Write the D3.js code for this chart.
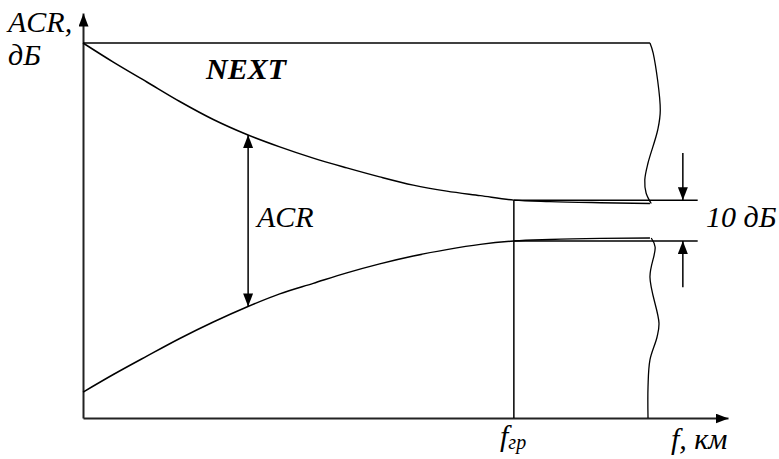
<!DOCTYPE html>
<html><head><meta charset="utf-8">
<script src="https://cdn.jsdelivr.net/npm/d3@7"></script>
<style>
body{margin:0;background:#fff}
#chart text{font-family:'Liberation Serif' !important;font-style:italic}
</style>
</head><body>
<svg id="chart" width="779" height="459"></svg>
<script>
// ---- data ----
const fValues     = [0, 4.7, 9.9, 15.0, 20.2, 25.4, 30.5, 35.7, 40.9, 46.0, 51.2, 56.4, 61.6, 66.8, 72.4, 80.2, 87.9];
const nextValues  = [100, 94.9, 89.6, 84.4, 79.6, 75.6, 72.3, 69.3, 66.7, 64.3, 62.1, 60.5, 59.3, 58.1, 57.7, 57.4, 57.2];
const lowerValues = [6.9, 11.6, 16.5, 21.2, 25.6, 29.6, 33.1, 35.9, 38.7, 41.1, 43.2, 44.9, 46.3, 47.2, 47.6, 47.9, 48.0];
const fGr = 66.8;
const topLevel = 100;
const nextLevel = 58.1;
const lowerLevel = 47.2;
const levelEnd = 95.3;
const markerF = 93.0;
const acrF = 25.6;
const breakTopF = [87.9, 88.4, 89.5, 89.1, 87.6, 87.1, 87.3, 88.1];
const breakTopV = [100, 97.3, 82.1, 76.8, 68.0, 63.5, 60.0, 57.2];
const breakLowF = [88.1, 88.7, 87.9, 89.3, 89.0, 87.9, 87.6, 87.6];
const breakLowV = [48.0, 45.6, 37.6, 25.3, 21.6, 15.5, 8.3, 0];
const labels = {yAxis1: "ACR,", yAxis2: "дБ", next: "NEXT", acr: "ACR", gap: "10 дБ", xAxis: "f, км", fgr: "f", fgrSub: "гр"};

// ---- drawing ----
const FONT = "Liberation Serif";
const svg = d3.select("#chart");
const x = d3.scaleLinear().domain([0, 100]).range([83, 728]);
const y = d3.scaleLinear().domain([0, 108]).range([418, 13]);

const defs = svg.append("defs");
defs.append("marker").attr("id", "arr")
  .attr("viewBox", "0 -5 13 10").attr("refX", 13).attr("refY", 0)
  .attr("markerWidth", 13).attr("markerHeight", 10)
  .attr("markerUnits", "userSpaceOnUse").attr("orient", "auto-start-reverse")
  .append("path").attr("d", "M0,-5L13,0L0,5Z").attr("fill", "#000");

// axes (no ticks)
const gx = svg.append("g").attr("transform", `translate(0,${y(0)})`)
  .call(d3.axisBottom(x).tickValues([]).tickSizeOuter(0));
gx.select(".domain").attr("stroke", "#222").attr("stroke-width", 2).attr("marker-end", "url(#arr)");
const gy = svg.append("g").attr("transform", `translate(${x(0)},0)`)
  .call(d3.axisLeft(y).tickValues([]).tickSizeOuter(0));
gy.select(".domain").attr("stroke", "#222").attr("stroke-width", 2).attr("marker-end", "url(#arr)");

const seg = (x1, y1, x2, y2) => svg.append("line")
  .attr("x1", x(x1)).attr("y1", y(y1)).attr("x2", x(x2)).attr("y2", y(y2))
  .attr("stroke", "#000").attr("stroke-width", 1.5);

seg(0, topLevel, breakTopF[0], topLevel);
seg(fGr, nextLevel, levelEnd, nextLevel);
seg(fGr, lowerLevel, levelEnd, lowerLevel);
seg(fGr, 0, fGr, nextLevel);

// curves
const line = d3.line().x(d => x(d[0])).y(d => y(d[1])).curve(d3.curveMonotoneX);
svg.append("path").datum(d3.zip(fValues, nextValues)).attr("d", line)
  .attr("fill", "none").attr("stroke", "#000").attr("stroke-width", 1.5);
svg.append("path").datum(d3.zip(fValues, lowerValues)).attr("d", line)
  .attr("fill", "none").attr("stroke", "#000").attr("stroke-width", 1.5);

// wavy break lines
const wave = d3.line().x(d => x(d[0])).y(d => y(d[1])).curve(d3.curveCatmullRom);
svg.append("path").datum(d3.zip(breakTopF, breakTopV)).attr("d", wave)
  .attr("fill", "none").attr("stroke", "#000").attr("stroke-width", 1.3);
svg.append("path").datum(d3.zip(breakLowF, breakLowV)).attr("d", wave)
  .attr("fill", "none").attr("stroke", "#000").attr("stroke-width", 1.3);

// ACR double arrow
const interpN = d3.scaleLinear().domain(fValues).range(nextValues);
const interpL = d3.scaleLinear().domain(fValues).range(lowerValues);
seg(acrF, interpN(acrF), acrF, interpL(acrF))
  .attr("marker-start", "url(#arr)").attr("marker-end", "url(#arr)");

// 10 dB arrows
seg(markerF, 70.7, markerF, nextLevel).attr("marker-end", "url(#arr)");
seg(markerF, 34.9, markerF, lowerLevel).attr("marker-end", "url(#arr)");

// texts
const txt = (tx, ty, size, s) => svg.append("text").attr("x", tx).attr("y", ty)
  .attr("font-size", size)
  .style("font-family", FONT, "important").style("font-style", "italic").text(s);
txt(8, 32, 30, labels.yAxis1);
txt(8, 65, 30, labels.yAxis2);
txt(206, 79, 30, labels.next).style("font-weight", "bold");
txt(257, 227, 30, labels.acr);
txt(706, 227, 30, labels.gap);
txt(671, 449, 30, labels.xAxis);
const fg = txt(500, 446, 30, "");
fg.append("tspan").text(labels.fgr);
fg.append("tspan").attr("font-size", 20).attr("dy", 3).text(labels.fgrSub);
</script>
</body></html>
